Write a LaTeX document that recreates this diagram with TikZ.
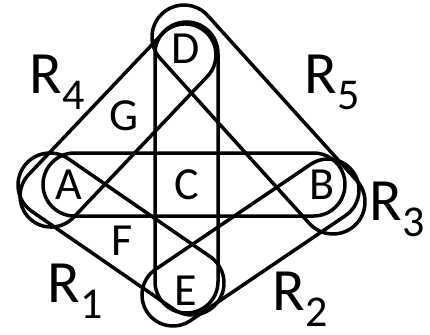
\documentclass[tikz,border=0pt]{standalone}
\usepackage{fontspec}
\setmainfont{Carlito}
\usetikzlibrary{shapes.misc}

\newcommand{\rlab}[1]{R\raisebox{-16pt}{\fontsize{44}{44}\selectfont #1}}

\begin{document}
\begin{tikzpicture}[x=1pt, y=-1pt, line width=3.5pt,
  hedge/.style={draw, rounded rectangle, inner sep=0pt},
  vtx/.style={inner sep=0pt, font=\fontsize{46}{46}\selectfont},
  elab/.style={inner sep=0pt, anchor=base west, font=\fontsize{60}{60}\selectfont}]
\useasboundingbox (0,0) rectangle (430,334);
% hyperedges
\node[hedge, minimum width=302pt, minimum height=63pt] (r3) at (194,184.5) {};
\node[hedge, minimum width=291pt, minimum height=63pt, rotate=90] (dce) at (186.5,167.5) {};
\node[hedge, minimum width=256.5pt, minimum height=62pt, rotate=46.5] (r4) at (118,125.5) {};
\node[hedge, minimum width=286.3pt, minimum height=64pt, rotate=-47.9] (r5) at (258.5,119.5) {};
\node[hedge, minimum width=236.5pt, minimum height=64pt, rotate=-34.6] (r1) at (121,234) {};
\node[hedge, minimum width=249.2pt, minimum height=62pt, rotate=34.1] (r2) at (250.5,242.5) {};
% vertices
\node[vtx] (a) at (68.5,185) {A};
\node[vtx] (c) at (187,185) {C};
\node[vtx] (b) at (322,185) {B};
\node[vtx] (d) at (186,49) {D};
\node[vtx] (e) at (186,291) {E};
\node[vtx] (f) at (122.5,241) {F};
\node[vtx] (g) at (124,116) {G};
% edge labels
\node[elab] (lr1) at (46,302) {\rlab{1}};
\node[elab] (lr2) at (271,310) {\rlab{2}};
\node[elab] (lr3) at (368,220) {\rlab{3}};
\node[elab] (lr4) at (28,93) {\rlab{4}};
\node[elab] (lr5) at (303,93) {\rlab{5}};
\end{tikzpicture}
\end{document}
